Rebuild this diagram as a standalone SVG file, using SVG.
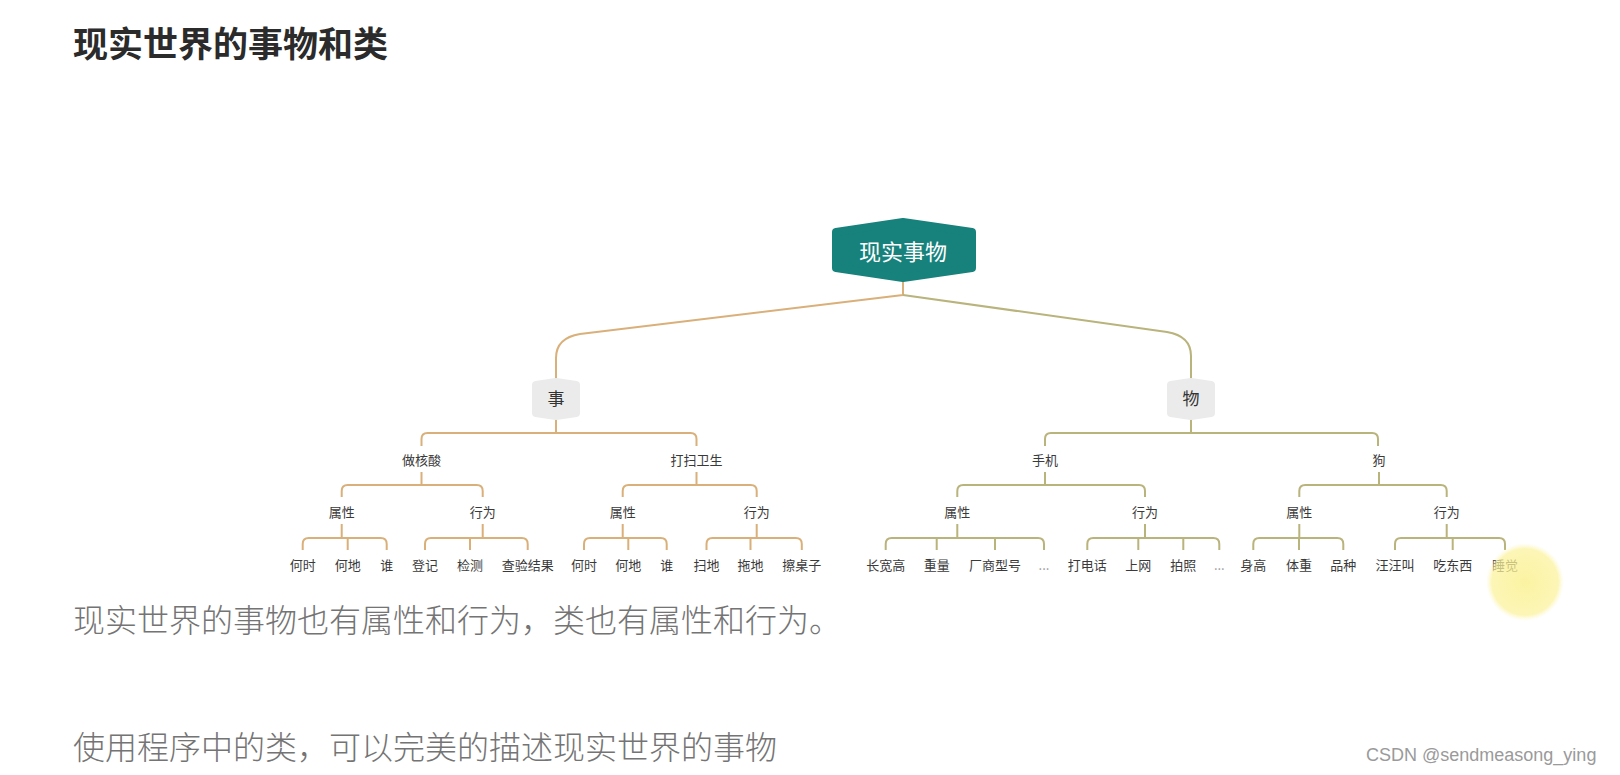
<svg xmlns="http://www.w3.org/2000/svg" width="1620" height="775" viewBox="0 0 1620 775">
<defs>
<style>
.t{font-family:"Noto Sans CJK SC","Noto Sans",sans-serif;fill:#3a3a3a;font-size:13px;text-anchor:middle}
.sub{font-size:17px;fill:#333}
.big{font-family:"Noto Sans CJK SC",sans-serif;font-size:32px;fill:#747474;font-weight:300}
.lo{fill:none;stroke:#d9b07a;stroke-width:2;stroke-linejoin:round}
.lg{fill:none;stroke:#b9b37c;stroke-width:2;stroke-linejoin:round}
</style>
<radialGradient id="hl" cx="0.5" cy="0.5" r="0.5">
<stop offset="0" stop-color="#faf08a" stop-opacity="0.8"/>
<stop offset="0.85" stop-color="#fbf29a" stop-opacity="0.72"/>
<stop offset="1" stop-color="#fdf7c0" stop-opacity="0"/>
</radialGradient>
</defs>
<rect width="1620" height="775" fill="#ffffff"/>
<text x="73" y="57" font-family="Noto Sans CJK SC,sans-serif" font-size="35" font-weight="bold" fill="#2b2b2b">现实世界的事物和类</text>

<g id="connectors">
<path class="lo" d="M903,282 V295 L580,334 Q556,338 556,358 V380"/>
<path class="lg" d="M903,295 L1167,332 Q1191,336 1191,356 V380"/>
<path class="lo" d="M556,419 V433 M421.5,446 V439 Q421.5,433 427.5,433 H690.5 Q696.5,433 696.5,439 V446"/>
<path class="lo" d="M421.5,472 V485 M341.7,497 V491 Q341.7,485 347.7,485 H476.7 Q482.7,485 482.7,491 V497"/>
<path class="lo" d="M341.7,524 V538 M302.7,550 V544 Q302.7,538 308.7,538 H380.7 Q386.7,538 386.7,544 V550 M347.7,538 V550"/>
<path class="lo" d="M482.7,524 V538 M425,550 V544 Q425,538 431,538 H521.7 Q527.7,538 527.7,544 V550 M470,538 V550"/>
<path class="lo" d="M696.5,472 V485 M622.7,497 V491 Q622.7,485 628.7,485 H750.7 Q756.7,485 756.7,491 V497"/>
<path class="lo" d="M622.7,524 V538 M584,550 V544 Q584,538 590,538 H660.7 Q666.7,538 666.7,544 V550 M628.3,538 V550"/>
<path class="lo" d="M756.7,524 V538 M706.5,550 V544 Q706.5,538 712.5,538 H795.8 Q801.8,538 801.8,544 V550 M750.5,538 V550"/>
<path class="lg" d="M1191,419 V433 M1045,446 V439 Q1045,433 1051,433 H1372 Q1378,433 1378,439 V446"/>
<path class="lg" d="M1045,472 V485 M957.3,497 V491 Q957.3,485 963.3,485 H1139 Q1145,485 1145,491 V497"/>
<path class="lg" d="M957.3,524 V538 M885.7,550 V544 Q885.7,538 891.7,538 H1038 Q1044,538 1044,544 V550 M936.7,538 V550 M995,538 V550"/>
<path class="lg" d="M1145,524 V538 M1087.3,550 V544 Q1087.3,538 1093.3,538 H1213.3 Q1219.3,538 1219.3,544 V550 M1138.3,538 V550 M1183.3,538 V550"/>
<path class="lg" d="M1379,472 V485 M1299.3,497 V491 Q1299.3,485 1305.3,485 H1440.7 Q1446.7,485 1446.7,491 V497"/>
<path class="lg" d="M1299.3,524 V538 M1253.3,550 V544 Q1253.3,538 1259.3,538 H1337.3 Q1343.3,538 1343.3,544 V550 M1299,538 V550"/>
<path class="lg" d="M1446.7,524 V538 M1395,550 V544 Q1395,538 1401,538 H1499 Q1505,538 1505,544 V550 M1452.7,538 V550"/>
</g>

<g id="root">
<polygon points="836,232 903,222 972,232 972,268 903,278 836,268" fill="#17827c" stroke="#17827c" stroke-width="8" stroke-linejoin="round"/>
<text class="t" x="903" y="260" style="font-size:22px;fill:#ffffff">现实事物</text>
</g>
<g id="n-shi">
<polygon points="536,385 556,382 576,385 576,413 556,416 536,413" fill="#ebebeb" stroke="#ebebeb" stroke-width="8" stroke-linejoin="round"/>
<text class="t sub" x="556" y="405">事</text>
</g>
<g id="n-wu">
<polygon points="1171,385 1191,382 1211,385 1211,413 1191,416 1171,413" fill="#ebebeb" stroke="#ebebeb" stroke-width="8" stroke-linejoin="round"/>
<text class="t sub" x="1191" y="405">物</text>
</g>

<g id="n-hesuan"><text class="t" x="421.5" y="465">做核酸</text></g>
<g id="n-hesuan-attr"><text class="t" x="341.7" y="517">属性</text></g>
<g id="n-hesuan-beh"><text class="t" x="482.7" y="517">行为</text></g>
<g id="n-hs-a1"><text class="t" x="302.7" y="570">何时</text></g>
<g id="n-hs-a2"><text class="t" x="347.7" y="570">何地</text></g>
<g id="n-hs-a3"><text class="t" x="386.7" y="570">谁</text></g>
<g id="n-hs-b1"><text class="t" x="425" y="570">登记</text></g>
<g id="n-hs-b2"><text class="t" x="470" y="570">检测</text></g>
<g id="n-hs-b3"><text class="t" x="527.7" y="570">查验结果</text></g>

<g id="n-dasao"><text class="t" x="696.5" y="465">打扫卫生</text></g>
<g id="n-dasao-attr"><text class="t" x="622.7" y="517">属性</text></g>
<g id="n-dasao-beh"><text class="t" x="756.7" y="517">行为</text></g>
<g id="n-ds-a1"><text class="t" x="584" y="570">何时</text></g>
<g id="n-ds-a2"><text class="t" x="628.3" y="570">何地</text></g>
<g id="n-ds-a3"><text class="t" x="666.7" y="570">谁</text></g>
<g id="n-ds-b1"><text class="t" x="706.5" y="570">扫地</text></g>
<g id="n-ds-b2"><text class="t" x="750.5" y="570">拖地</text></g>
<g id="n-ds-b3"><text class="t" x="801.8" y="570">擦桌子</text></g>

<g id="n-phone"><text class="t" x="1045" y="465">手机</text></g>
<g id="n-phone-attr"><text class="t" x="957.3" y="517">属性</text></g>
<g id="n-phone-beh"><text class="t" x="1145" y="517">行为</text></g>
<g id="n-ph-a1"><text class="t" x="885.7" y="570">长宽高</text></g>
<g id="n-ph-a2"><text class="t" x="936.7" y="570">重量</text></g>
<g id="n-ph-a3"><text class="t" x="995" y="570">厂商型号</text></g>
<g id="n-ph-a4"><text class="t" x="1044" y="570" style="fill:#999">...</text></g>
<g id="n-ph-b1"><text class="t" x="1087.3" y="570">打电话</text></g>
<g id="n-ph-b2"><text class="t" x="1138.3" y="570">上网</text></g>
<g id="n-ph-b3"><text class="t" x="1183.3" y="570">拍照</text></g>
<g id="n-ph-b4"><text class="t" x="1219.3" y="570" style="fill:#999">...</text></g>

<g id="n-dog"><text class="t" x="1379" y="465">狗</text></g>
<g id="n-dog-attr"><text class="t" x="1299.3" y="517">属性</text></g>
<g id="n-dog-beh"><text class="t" x="1446.7" y="517">行为</text></g>
<g id="n-dg-a1"><text class="t" x="1253.3" y="570">身高</text></g>
<g id="n-dg-a2"><text class="t" x="1299" y="570">体重</text></g>
<g id="n-dg-a3"><text class="t" x="1343.3" y="570">品种</text></g>
<g id="n-dg-b1"><text class="t" x="1395" y="570">汪汪叫</text></g>
<g id="n-dg-b2"><text class="t" x="1452.7" y="570">吃东西</text></g>
<g id="n-dg-b3"><text class="t" x="1505" y="570">睡觉</text></g>

<circle cx="1525" cy="582" r="39" fill="url(#hl)"/>

<text class="big" x="73" y="632">现实世界的事物也有属性和行为，类也有属性和行为。</text>
<text class="big" x="73" y="759">使用程序中的类，可以完美的描述现实世界的事物</text>
<text x="1366" y="761" font-family="Liberation Sans,Arial,sans-serif" font-size="18" fill="#9a9a9a">CSDN @sendmeasong_ying</text>
</svg>
